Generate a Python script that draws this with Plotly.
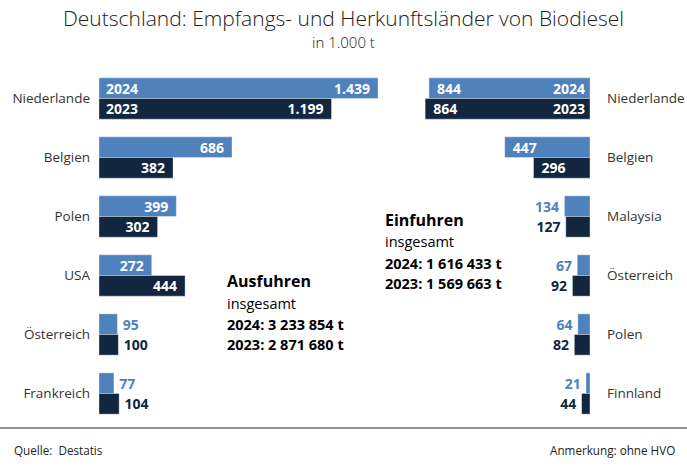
import plotly.graph_objects as go

# ---- data ----
export_countries = ["Niederlande", "Belgien", "Polen", "USA", "Österreich", "Frankreich"]
export_2024 = [1439, 686, 399, 272, 95, 77]
export_2023 = [1199, 382, 302, 444, 100, 104]

import_countries = ["Niederlande", "Belgien", "Malaysia", "Österreich", "Polen", "Finnland"]
import_2024 = [844, 447, 134, 67, 64, 21]
import_2023 = [864, 296, 127, 92, 82, 44]

years = ["2024", "2023"]
export_total = ["3 233 854 t", "2 871 680 t"]
import_total = ["1 616 433 t", "1 569 663 t"]

# ---- style ----
W, H = 687, 472
BLUE = "#4F81BD"
NAVY = "#12263F"
FONT = "Open Sans"
TXT = "#333333"
PAD_IN = "\u00a0\u200a"
PAD_OUT = "\u2009"


def px(x):
    return x / W


def py(y):
    return 1 - y / H


rows = list(range(len(export_countries)))

exp_pos24 = ["inside", "inside", "inside", "inside", "outside", "outside"]
exp_pos23 = ["inside", "inside", "inside", "inside", "outside", "outside"]
imp_pos24 = ["inside", "inside", "outside", "outside", "outside", "outside"]
imp_pos23 = ["inside", "inside", "outside", "outside", "outside", "outside"]

fig = go.Figure()


def add_bar(vals, color, offset, pos, xa, ya, reversed_side):
    tmpl = []
    for p in pos:
        pad = PAD_IN if p == "inside" else PAD_OUT
        pad_after = (p == "inside") != reversed_side
        tmpl.append("%{x:,.0f}" + pad if pad_after else pad + "%{x:,.0f}")
    fig.add_trace(go.Bar(
        y=rows, x=vals, orientation="h", xaxis=xa, yaxis=ya,
        width=0.35, offset=offset,
        marker=dict(color=color, line=dict(width=0.6, color="rgba(255,255,255,0.6)")),
        texttemplate=tmpl, textposition=pos,
        insidetextanchor="end", constraintext="none", cliponaxis=False,
        insidetextfont=dict(family=FONT, size=14, color="white", weight="bold"),
        outsidetextfont=dict(family=FONT, size=14, color=color, weight="bold"),
        hoverinfo="skip", showlegend=False,
    ))


add_bar(export_2024, BLUE, -0.35, exp_pos24, "x", "y", False)
add_bar(export_2023, NAVY, 0.0, exp_pos23, "x", "y", False)
add_bar(import_2024, BLUE, -0.35, imp_pos24, "x2", "y2", True)
add_bar(import_2023, NAVY, 0.0, imp_pos23, "x2", "y2", True)

ydom = [py(423), py(69)]
tickfont = dict(family=FONT, size=13.5, color=TXT)

fig.update_layout(
    width=W, height=H,
    margin=dict(l=0, r=0, t=0, b=0),
    paper_bgcolor="white", plot_bgcolor="white",
    separators=",.",
    barmode="overlay",
    xaxis=dict(domain=[px(99), px(400)], range=[0, 301 / 0.1939], visible=False, anchor="y"),
    xaxis2=dict(domain=[px(400), px(590)], range=[190 / 0.1908, 0], visible=False, anchor="y2"),
    yaxis=dict(domain=ydom, range=[5.5, -0.5], anchor="x", side="left",
               tickvals=rows, ticktext=export_countries, tickfont=tickfont,
               showgrid=False, zeroline=False, showline=False, ticks="", ticklabelstandoff=8),
    yaxis2=dict(domain=ydom, range=[5.5, -0.5], anchor="x2", side="right",
                tickvals=rows, ticktext=import_countries, tickfont=tickfont,
                showgrid=False, zeroline=False, showline=False, ticks="", ticklabelstandoff=16),
)

ann = []


def note(text, x, y, size, color="#222222", xanchor="center", weight=None, xref="paper", yref="paper", xshift=0):
    f = dict(family=FONT, size=size, color=color)
    if weight is not None:
        f["weight"] = weight
    ann.append(dict(text=text, x=x, y=y, xref=xref, yref=yref, xanchor=xanchor, yanchor="middle",
                    xshift=xshift, showarrow=False, font=f))


# title
note("Deutschland: Empfangs- und Herkunftsländer von Biodiesel", 0.5, py(18), 21, weight=300)
note("in 1.000 t", 0.5, py(42), 15, weight=300)

# year labels inside top bars
note("<b>%s</b>" % years[0], 0, -0.175, 14, "white", "left", xref="x", yref="y", xshift=5)
note("<b>%s</b>" % years[1], 0, 0.175, 14, "white", "left", xref="x", yref="y", xshift=5)
note("<b>%s</b>" % years[0], 0, -0.175, 14, "white", "right", xref="x2", yref="y2", xshift=-3)
note("<b>%s</b>" % years[1], 0, 0.175, 14, "white", "right", xref="x2", yref="y2", xshift=-3)


def block(x0, ytop, title, totals):
    note("<b>%s</b>" % title, px(x0), py(ytop), 16, "black", "left")
    note("insgesamt", px(x0), py(ytop + 22), 14.5, "black", "left")
    for i, (yr, tot) in enumerate(zip(years, totals)):
        note("<b>%s: %s</b>" % (yr, tot), px(x0), py(ytop + 43 + 20 * i), 14.5, "black", "left")


block(225, 281, "Ausfuhren", export_total)
block(383, 220, "Einfuhren", import_total)

note("Quelle:  Destatis", px(12), py(450), 11.7, "#222222", "left")
note("Anmerkung: ohne HVO", px(677), py(450), 11.7, "#222222", "right")

fig.update_layout(annotations=ann,
                  shapes=[dict(type="line", xref="paper", yref="paper", x0=0, x1=1,
                               y0=py(428), y1=py(428), line=dict(color="#222222", width=1))])

fig.write_html("out.html", config={"displayModeBar": False},
               post_script="document.body.style.margin='0px';")
